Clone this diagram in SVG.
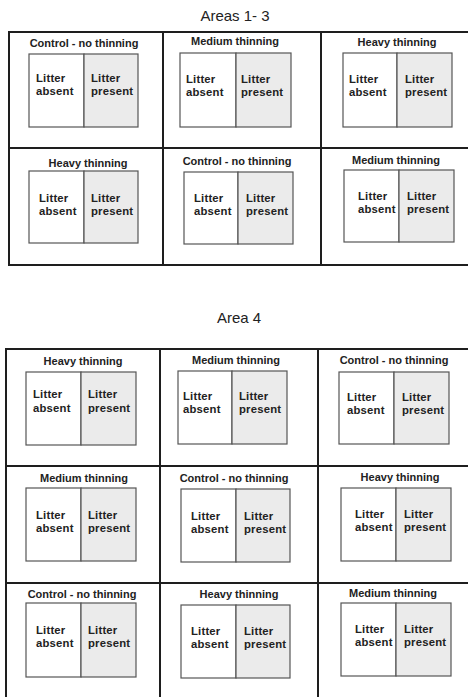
<svg xmlns="http://www.w3.org/2000/svg" width="468" height="697" viewBox="0 0 468 697">
<style>
.bg{fill:#ffffff}
.grid{fill:none;stroke:#1e1e1e;stroke-width:2}
.box{fill:#ffffff;stroke:#555555;stroke-width:1.2}
.pres{fill:#ebebeb;stroke:#555555;stroke-width:1.2}
.head{font-family:"Liberation Sans",Arial,sans-serif;font-size:15px;fill:#222222;text-anchor:middle}
.ttl{font-family:"Liberation Sans",Arial,sans-serif;font-size:11px;font-weight:bold;fill:#222222;text-anchor:middle}
.lbl{font-family:"Liberation Sans",Arial,sans-serif;font-size:11.3px;font-weight:bold;fill:#222222;letter-spacing:0.2px}
</style>
<rect class="bg" x="0" y="0" width="468" height="697"/>
<text class="head" x="235" y="21">Areas 1- 3</text>
<text class="head" x="239" y="323">Area 4</text>
<g id="grid-areas-1-3">
<rect class="grid" x="9" y="32" width="470" height="233"/>
<line class="grid" x1="163" y1="32" x2="163" y2="265"/>
<line class="grid" x1="321" y1="32" x2="321" y2="265"/>
<line class="grid" x1="9" y1="148" x2="468" y2="148"/>
</g>
<g id="grid-area-4">
<rect class="grid" x="6" y="349" width="470" height="360"/>
<line class="grid" x1="160" y1="349" x2="160" y2="697"/>
<line class="grid" x1="318" y1="349" x2="318" y2="697"/>
<line class="grid" x1="6" y1="466" x2="468" y2="466"/>
<line class="grid" x1="6" y1="583" x2="468" y2="583"/>
</g>
<!-- Areas 1-3 -->
<g id="a13-r1c1">
<text class="ttl" x="84" y="47">Control - no thinning</text>
<rect class="box" x="29" y="54" width="55" height="73"/><rect class="pres" x="84" y="54" width="54" height="73"/>
<text class="lbl" x="36" y="82">Litter</text><text class="lbl" x="36" y="95">absent</text>
<text class="lbl" x="91" y="82">Litter</text><text class="lbl" x="91" y="95">present</text>
</g>
<g id="a13-r1c2">
<text class="ttl" x="235" y="45">Medium thinning</text>
<rect class="box" x="180" y="53" width="56" height="74"/><rect class="pres" x="236" y="53" width="55" height="74"/>
<text class="lbl" x="186" y="83">Litter</text><text class="lbl" x="186" y="96">absent</text>
<text class="lbl" x="241" y="83">Litter</text><text class="lbl" x="241" y="96">present</text>
</g>
<g id="a13-r1c3">
<text class="ttl" x="397" y="46">Heavy thinning</text>
<rect class="box" x="343" y="53" width="54" height="74"/><rect class="pres" x="397" y="53" width="55" height="74"/>
<text class="lbl" x="349" y="83">Litter</text><text class="lbl" x="349" y="96">absent</text>
<text class="lbl" x="405" y="83">Litter</text><text class="lbl" x="405" y="96">present</text>
</g>
<g id="a13-r2c1">
<text class="ttl" x="88" y="167">Heavy thinning</text>
<rect class="box" x="29" y="171" width="55" height="72"/><rect class="pres" x="84" y="171" width="54" height="72"/>
<text class="lbl" x="39" y="202">Litter</text><text class="lbl" x="39" y="215">absent</text>
<text class="lbl" x="91" y="202">Litter</text><text class="lbl" x="91" y="215">present</text>
</g>
<g id="a13-r2c2">
<text class="ttl" x="237" y="165">Control - no thinning</text>
<rect class="box" x="184" y="172" width="54" height="72"/><rect class="pres" x="238" y="172" width="55" height="72"/>
<text class="lbl" x="194" y="202">Litter</text><text class="lbl" x="194" y="215">absent</text>
<text class="lbl" x="246" y="202">Litter</text><text class="lbl" x="246" y="215">present</text>
</g>
<g id="a13-r2c3">
<text class="ttl" x="396" y="164">Medium thinning</text>
<rect class="box" x="344" y="170" width="55" height="72"/><rect class="pres" x="399" y="170" width="55" height="72"/>
<text class="lbl" x="358" y="200">Litter</text><text class="lbl" x="358" y="213">absent</text>
<text class="lbl" x="407" y="200">Litter</text><text class="lbl" x="407" y="213">present</text>
</g>
<!-- Area 4 -->
<g id="a4-r1c1">
<text class="ttl" x="83" y="365">Heavy thinning</text>
<rect class="box" x="26" y="372" width="55" height="73"/><rect class="pres" x="81" y="372" width="55" height="73"/>
<text class="lbl" x="33" y="398">Litter</text><text class="lbl" x="33" y="412">absent</text>
<text class="lbl" x="88" y="398">Litter</text><text class="lbl" x="88" y="412">present</text>
</g>
<g id="a4-r1c2">
<text class="ttl" x="236" y="364">Medium thinning</text>
<rect class="box" x="178" y="371" width="54" height="73"/><rect class="pres" x="232" y="371" width="55" height="73"/>
<text class="lbl" x="183" y="400">Litter</text><text class="lbl" x="183" y="413">absent</text>
<text class="lbl" x="239" y="400">Litter</text><text class="lbl" x="239" y="413">present</text>
</g>
<g id="a4-r1c3">
<text class="ttl" x="394" y="364">Control - no thinning</text>
<rect class="box" x="339" y="372" width="55" height="72"/><rect class="pres" x="394" y="372" width="55" height="72"/>
<text class="lbl" x="347" y="401">Litter</text><text class="lbl" x="347" y="414">absent</text>
<text class="lbl" x="402" y="401">Litter</text><text class="lbl" x="402" y="414">present</text>
</g>
<g id="a4-r2c1">
<text class="ttl" x="84" y="482">Medium thinning</text>
<rect class="box" x="26" y="488" width="55" height="73"/><rect class="pres" x="81" y="488" width="55" height="73"/>
<text class="lbl" x="36" y="519">Litter</text><text class="lbl" x="36" y="532">absent</text>
<text class="lbl" x="88" y="519">Litter</text><text class="lbl" x="88" y="532">present</text>
</g>
<g id="a4-r2c2">
<text class="ttl" x="234" y="482">Control - no thinning</text>
<rect class="box" x="181" y="489" width="55" height="73"/><rect class="pres" x="236" y="489" width="54" height="73"/>
<text class="lbl" x="191" y="520">Litter</text><text class="lbl" x="191" y="533">absent</text>
<text class="lbl" x="244" y="520">Litter</text><text class="lbl" x="244" y="533">present</text>
</g>
<g id="a4-r2c3">
<text class="ttl" x="400" y="481">Heavy thinning</text>
<rect class="box" x="341" y="488" width="55" height="73"/><rect class="pres" x="396" y="488" width="55" height="73"/>
<text class="lbl" x="355" y="518">Litter</text><text class="lbl" x="355" y="531">absent</text>
<text class="lbl" x="404" y="518">Litter</text><text class="lbl" x="404" y="531">present</text>
</g>
<g id="a4-r3c1">
<text class="ttl" x="82" y="598">Control - no thinning</text>
<rect class="box" x="26" y="603" width="55" height="74"/><rect class="pres" x="81" y="603" width="55" height="74"/>
<text class="lbl" x="36" y="634">Litter</text><text class="lbl" x="36" y="647">absent</text>
<text class="lbl" x="88" y="634">Litter</text><text class="lbl" x="88" y="647">present</text>
</g>
<g id="a4-r3c2">
<text class="ttl" x="239" y="598">Heavy thinning</text>
<rect class="box" x="181" y="605" width="55" height="73"/><rect class="pres" x="236" y="605" width="54" height="73"/>
<text class="lbl" x="191" y="635">Litter</text><text class="lbl" x="191" y="648">absent</text>
<text class="lbl" x="244" y="635">Litter</text><text class="lbl" x="244" y="648">present</text>
</g>
<g id="a4-r3c3">
<text class="ttl" x="393" y="597">Medium thinning</text>
<rect class="box" x="341" y="603" width="55" height="73"/><rect class="pres" x="396" y="603" width="55" height="73"/>
<text class="lbl" x="355" y="633">Litter</text><text class="lbl" x="355" y="646">absent</text>
<text class="lbl" x="404" y="633">Litter</text><text class="lbl" x="404" y="646">present</text>
</g>
</svg>
